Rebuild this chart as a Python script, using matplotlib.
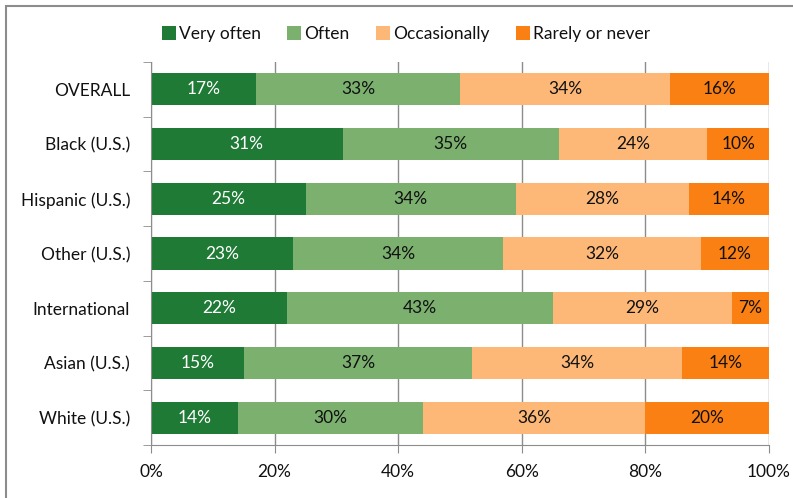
import matplotlib
matplotlib.use("Agg")
import matplotlib.pyplot as plt
from matplotlib.patches import Rectangle
from matplotlib.ticker import MultipleLocator, FixedLocator, PercentFormatter
import numpy as np

groups = ["OVERALL", "Black (U.S.)", "Hispanic (U.S.)", "Other (U.S.)",
          "International", "Asian (U.S.)", "White (U.S.)"]
series = ["Very often", "Often", "Occasionally", "Rarely or never"]
very_often = [17, 31, 25, 23, 22, 15, 14]
often = [33, 35, 34, 34, 43, 37, 30]
occasionally = [34, 24, 28, 32, 29, 34, 36]
rarely = [16, 10, 14, 12, 7, 14, 20]

colors = ["#1F7A36", "#7BB06F", "#FDB878", "#FB8014"]
text_colors = ["white", "#111111", "#111111", "#111111"]

plt.rcParams["font.family"] = ["Lato", "DejaVu Sans"]
plt.rcParams["text.color"] = "#111111"
plt.rcParams["xtick.labelcolor"] = "#111111"
plt.rcParams["ytick.labelcolor"] = "#111111"

fig = plt.figure(figsize=(7.93, 4.98), dpi=100)
ax = fig.add_axes([151 / 793, 1 - 445 / 498, 618 / 793, 383 / 498])

# outer chart frame
fig.patches.append(Rectangle((6 / 793, -0.05), 1.2, 1 - 6 / 498 + 0.05,
                             transform=fig.transFigure, fill=False,
                             edgecolor="#8c8c8c", linewidth=1.5))

y = np.arange(len(groups))
left = np.zeros(len(groups))
for vals, name, col, tcol in zip([very_often, often, occasionally, rarely],
                                 series, colors, text_colors):
    vals = np.array(vals, dtype=float)
    ax.barh(y, vals, left=left, height=0.59, color=col, label=name, zorder=3)
    for yi, l, v in zip(y, left, vals):
        cx = min(l + v / 2, (l + 100) / 2)
        ax.text(cx, yi, f"{int(v)}%", ha="center", va="center",
                color=tcol, fontsize=12.5, zorder=4)
    left += vals

ax.set_xlim(0, 100)
ax.set_ylim(len(groups) - 0.5, -0.5)
ax.xaxis.set_major_locator(MultipleLocator(20))
ax.xaxis.set_major_formatter(PercentFormatter(decimals=0))
ax.set_yticks(y)
ax.set_yticklabels(groups)
ax.yaxis.set_minor_locator(FixedLocator(np.arange(-0.5, len(groups), 1)))
ax.tick_params(axis="y", which="major", length=0, pad=15, labelsize=12.5)
ax.tick_params(axis="y", which="minor", length=6, color="#8c8c8c")
ax.tick_params(axis="x", length=6, color="#8c8c8c", labelsize=12.5, pad=8)
ax.grid(axis="x", color="#8c8c8c", linewidth=1, zorder=0)
for side in ["top", "right"]:
    ax.spines[side].set_visible(False)
ax.spines["left"].set_color("#8c8c8c")
ax.spines["bottom"].set_color("#8c8c8c")
ax.spines["left"].set_zorder(5)

fig.legend(loc="center", bbox_to_anchor=(0.512, 1 - 34 / 498), ncol=4,
           frameon=False, fontsize=12.5, handlelength=0.8, handleheight=0.8,
           handletextpad=0.2, columnspacing=1.5, borderaxespad=0)

fig.savefig("out.png", dpi=100)
